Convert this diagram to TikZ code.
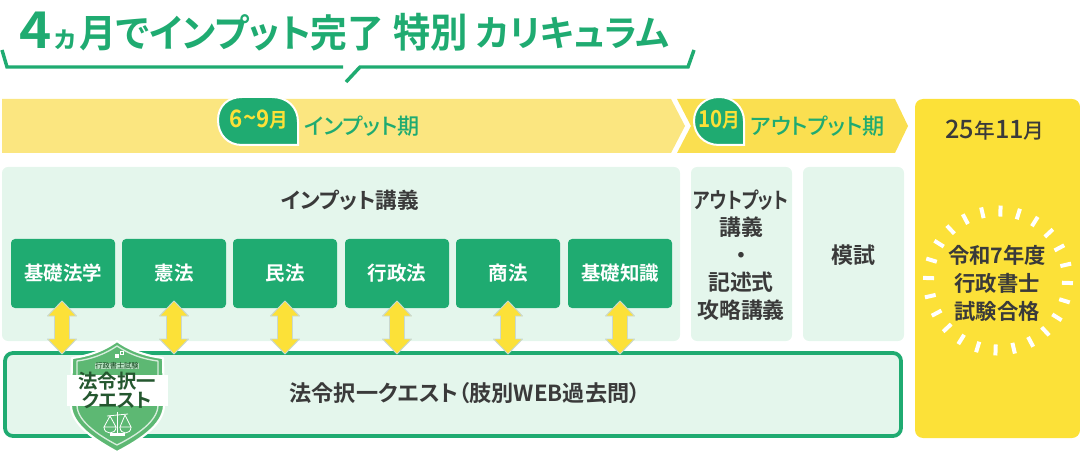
\documentclass[tikz,border=0pt]{standalone}
\usepackage{fontspec}
\usepackage{graphicx}
\setmainfont{Noto Sans CJK JP}[BoldFont={Noto Sans CJK JP Bold}]
\newfontfamily\jpb{Noto Sans CJK JP Bold}[RawFeature={+palt}]
\newfontfamily\jpm{Noto Sans CJK JP Medium}[RawFeature={+palt}]
\usetikzlibrary{calc}
\definecolor{grn}{HTML}{1FAB71}
\definecolor{pale}{HTML}{E4F6EC}
\definecolor{yela}{HTML}{FBE680}
\definecolor{yelb}{HTML}{FADF50}
\definecolor{yelc}{HTML}{FCE138}
\definecolor{ink}{HTML}{3A3A3A}
\definecolor{shield}{HTML}{5DB873}
\definecolor{dkg}{HTML}{24572F}
\tikzset{
 x=0.75pt,y=-0.75pt,
 panel/.style={fill=pale,rounded corners=4.5pt,draw=none},
 subj/.style={fill=grn,rounded corners=3pt,draw=none,minimum width=78pt,minimum height=51.75pt,text=white,inner sep=0pt,font=\fontsize{14.6}{15}\jpb},
 dark/.style={text=ink,align=center,inner sep=0pt,font=\fontsize{16.2}{19.5}\jpb},
 ttl/.style={text=grn,inner sep=0pt,anchor=base west},
 dbl/.style={fill=yelc,draw=black!12!pale,line width=0.7pt,line join=round},
}
\newcommand{\dblarrow}[2]{%
 \coordinate (#1) at (#2,328);
 \draw[dbl] ($(#1)+(0,-27)$) -- ++(14.5,15) -- ++(-7,0) -- ++(0,23) -- ++(7,0) -- ++(-14.5,15) -- ++(-14.5,-15) -- ++(7,0) -- ++(0,-23) -- ++(-7,0) -- cycle;}
\begin{document}
\begin{tikzpicture}
\useasboundingbox (0,0) rectangle (1080,459);
% title
\node[ttl,font=\fontsize{38}{38}\jpb] (t4) at (19,48.5) {\scalebox{1.08}[1.0]{4}};
\node[ttl,font=\fontsize{21}{21}\jpb] (tk) at (54,48) {ヵ};
\node[ttl,font=\fontsize{27.6}{28}\jpb] (t1) at (79,48) {\scalebox{1}[1.05]{月でインプット完了}};
\node[ttl,font=\fontsize{28}{29}\jpb] (t2) at (393,48) {\scalebox{1}[1.08]{特別}};
\node[ttl,font=\fontsize{27}{27}\jpb] (t3) at (476,47) {カリキュラム};
\draw[grn,line width=2.6pt,line join=miter] (2,50) -- (7,67) -- (343,67);
\draw[grn,line width=2.6pt,line join=miter] (346,82) -- (360,67) -- (688,67) -- (694,50);
% bands
\fill[yela] (2,99) -- (671,99) -- (685,126) -- (671,153) -- (2,153) -- cycle;
\fill[yelb] (677,99) -- (895,99) -- (908,126) -- (895,153) -- (677,153) -- (691,126) -- cycle;
\fill[yelc,rounded corners=6pt] (915,99) rectangle (1080,438);
% bubbles
\draw[fill=grn,draw=white,line width=1.5pt,rounded corners=0pt]
  (298,145) -- (242,145) .. controls (228,145) and (218,135) .. (218,120) .. controls (218,106) and (228,97) .. (242,97) -- (272,97) .. controls (287,97) and (298,107) .. (298,122) -- cycle;
\node[inner sep=0pt,text=yelc,font=\fontsize{18}{18}\jpb] (b1) at (259,120) {\scalebox{.93}[1]{6\raisebox{1pt}{\char"007E}9\fontsize{15}{15}\selectfont 月}};
\node[ttl,font=\fontsize{16.6}{17}\jpm] (l1) at (304,135) {インプット期};
\draw[fill=grn,draw=white,line width=1.5pt]
  (744,145) -- (719,145) .. controls (704,145) and (694,134) .. (694,121) .. controls (694,107) and (705,97) .. (719,97) .. controls (733,97) and (744,107) .. (744,121) -- cycle;
\node[inner sep=0pt,text=yelc,font=\fontsize{17.5}{18}\jpb] (b2) at (719,120) {\scalebox{.88}[1]{10\fontsize{15}{15}\selectfont 月}};
\node[ttl,font=\fontsize{16.6}{17}\jpm] (l2) at (750,135) {アウトプット期};
% panels
\fill[panel] (2,167) rectangle (680,341);
\fill[panel] (691,167) rectangle (792,341);
\fill[panel] (803,167) rectangle (904,341);
\node[dark] (ip) at (350,200) {インプット講義};
\node[dark,font=\fontsize{16.4}{20.6}\jpb] (op) at (741,255) {\scalebox{.82}[1]{アウトプット}\\講義\\・\\記述式\\攻略講義};
\node[dark,font=\fontsize{16.5}{20}\jpb] (ms) at (853,255) {模試};
\foreach \n/\cx/\lab in {s1/63/基礎法学,s2/174/憲法,s3/285/民法,s4/397/行政法,s5/508/商法,s6/620/基礎知識}
  \node[subj] (\n) at (\cx,273.5) {\lab};
% quest box
\draw[fill=pale,draw=grn,line width=2.8pt,rounded corners=6pt] (5,353) rectangle (901,436);
\node[dark,font=\fontsize{16.6}{19}\jpb] (qt) at (465,393) {法令択一クエスト（肢別WEB過去問）};
% arrows
\dblarrow{a1}{62}\dblarrow{a2}{174}\dblarrow{a3}{285}\dblarrow{a4}{397}\dblarrow{a5}{508}\dblarrow{a6}{620}
% badge
\draw[fill=shield,draw=white,line width=1.6pt,line join=round]
 (117,341) .. controls (103,351) and (88,356) .. (72,358) -- (71,406) .. controls (72,425) and (95,440) .. (117,452) .. controls (140,440) and (163,425) .. (164,406) -- (163,358) .. controls (147,356) and (131,351) .. (117,341) -- cycle;
\draw[draw=white!75!shield,line width=1pt,line join=round]
 (117,346) .. controls (105,354) and (92,359) .. (77,361) -- (77,405) .. controls (77,421) and (98,435) .. (117,445) .. controls (137,435) and (158,421) .. (158,405) -- (158,361) .. controls (142,359) and (129,354) .. (117,346) -- cycle;
\fill[white] (115,354) rectangle (119,358);
\draw[white,line width=0.7pt] (120,351) rectangle (123,354);
\node[inner sep=0pt,text=dkg,font=\fontsize{5.4}{6}\jpm,fill=white,fill opacity=.55,text opacity=1] (bs) at (117,366) {行政書士試験};
\fill[white] (67,375) rectangle (168,406);
\node[inner sep=0pt,text=dkg,align=center,font=\fontsize{14.5}{14.5}\jpb] (bt) at (117,390.5) {法令択一\\クエスト};
% scales
\begin{scope}[white,line width=0.6pt]
\draw (117,412) -- (117,433);
\draw (107,416) -- (128,414);
\draw (110,416) -- (104,427) -- (116,427) -- cycle;
\draw (125,415) -- (120,427) -- (131,427) -- cycle;
\draw (104,427) .. controls (104,435) and (116,435) .. (116,427);
\draw (120,427) .. controls (120,435) and (131,435) .. (131,427);
\fill (110,433) rectangle (125,436);
\end{scope}
% right panel
\node[inner sep=0pt,text=ink,font=\jpm] (dt) at (995,130) {\fontsize{19}{19}\selectfont 25\fontsize{15.5}{16}\selectfont 年\fontsize{19}{19}\selectfont 11\fontsize{15.5}{16}\selectfont 月};
\node[dark,font=\fontsize{16}{21}\jpb] (pass) at (997,283) {令和7年度\\行政書士\\試験合格};
\foreach \a in {0,15,...,345}
  \draw[white,line width=3pt] ($(998,280.5)+(\a+2:64 and 64)$) -- ($(998,280.5)+(\a+2:75 and 75)$);
\end{tikzpicture}
\end{document}
